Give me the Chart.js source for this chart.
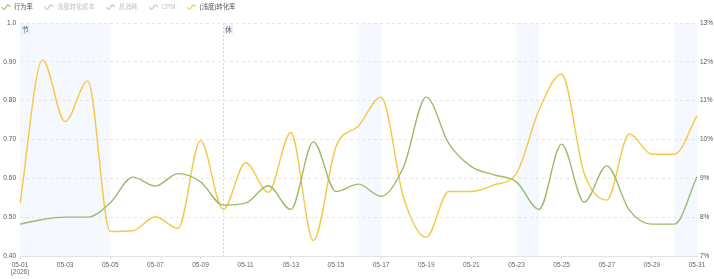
<!DOCTYPE html>
<html>
<head>
<meta charset="utf-8">
<script src="https://cdn.jsdelivr.net/npm/chart.js@4.4.1/dist/chart.umd.min.js"></script>
<style>
  html, body { margin: 0; padding: 0; background: #fff; }
  #wrap { position: relative; width: 714px; height: 279px; }
</style>
</head>
<body>
<div id="wrap"><canvas id="c" width="714" height="279"></canvas></div>
<script>
// ---- data ----
const dates = ['05-01','05-02','05-03','05-04','05-05','05-06','05-07','05-08','05-09','05-10',
  '05-11','05-12','05-13','05-14','05-15','05-16','05-17','05-18','05-19','05-20',
  '05-21','05-22','05-23','05-24','05-25','05-26','05-27','05-28','05-29','05-30','05-31'];
const yearLabel = '(2026)';

// 行为率 (left axis)
const behaviorRate = [0.482,0.494,0.500,0.500,0.537,0.603,0.580,0.612,0.591,0.531,
  0.536,0.581,0.520,0.694,0.566,0.585,0.554,0.630,0.809,0.690,
  0.630,0.609,0.591,0.520,0.688,0.539,0.632,0.518,0.482,0.482,0.604];

// (浅度)转化率, % (right axis)
const convRate = [8.36,12.05,10.46,11.51,7.63,7.65,8.01,7.71,9.97,8.20,
  9.40,8.64,10.18,7.40,9.81,10.35,11.09,8.50,7.48,8.66,
  8.66,8.83,9.13,10.76,11.68,9.13,8.44,10.14,9.62,9.62,10.61];

const seriesNames = ['行为率','浅度转化成本','总消耗','CPM','(浅度)转化率'];
const seriesActive = [true,false,false,false,true];

const leftTicks = [0.4,0.5,0.6,0.7,0.8,0.9,1.0];
const rightTicks = [7,8,9,10,11,12,13];

// holiday / weekend bands
const bands = [
  {from:'05-01', to:'05-05', tag:'节'},
  {from:'05-10', to:'05-10', tag:'休'},
  {from:'05-16', to:'05-17'},
  {from:'05-23', to:'05-24'},
  {from:'05-30', to:'05-31'}
];

// ---- styles ----
const GREEN = '#9cbb6c';
const YELLOW = '#f4c945';
const INACTIVE = '#c4c4c4';
const seriesColors = [GREEN, INACTIVE, INACTIVE, INACTIVE, YELLOW];
const FONT = "'Liberation Sans', 'Noto Sans CJK SC', sans-serif";

const bandPlugin = {
  id: 'bands',
  beforeDraw(chart) {
    const {ctx, chartArea, scales} = chart;
    const x = scales.x;
    ctx.save();
    bands.forEach(b => {
      const x0 = x.getPixelForValue(dates.indexOf(b.from));
      const x1 = x.getPixelForValue(dates.indexOf(b.to));
      if (x1 - x0 > 0.5) {
        ctx.fillStyle = '#f5f8ff';
        ctx.fillRect(x0, chartArea.top, x1 - x0, chartArea.bottom - chartArea.top);
      } else {
        ctx.strokeStyle = '#cdd6f3';
        ctx.lineWidth = 1;
        ctx.setLineDash([2, 2]);
        ctx.beginPath();
        ctx.moveTo(Math.round(x0) + 0.5, chartArea.top);
        ctx.lineTo(Math.round(x0) + 0.5, chartArea.bottom);
        ctx.stroke();
        ctx.setLineDash([]);
      }
    });
    ctx.restore();
  },
  afterDatasetsDraw(chart) {
    const {ctx, chartArea, scales} = chart;
    const x = scales.x;
    ctx.save();
    ctx.font = '6.5px ' + FONT;
    ctx.textBaseline = 'middle';
    ctx.textAlign = 'center';
    bands.forEach(b => {
      if (!b.tag) return;
      const x0 = x.getPixelForValue(dates.indexOf(b.from));
      ctx.fillStyle = '#e8effd';
      ctx.fillRect(x0 + 1, chartArea.top + 2, 9, 9);
      ctx.fillStyle = '#666';
      ctx.fillText(b.tag, x0 + 5.5, chartArea.top + 6.8);
    });
    ctx.restore();
  }
};

const legendPlugin = {
  id: 'waveLegend',
  afterDraw(chart) {
    const ctx = chart.ctx;
    ctx.save();
    ctx.font = '6.3px ' + FONT;
    ctx.textBaseline = 'middle';
    ctx.textAlign = 'left';
    let x = 2;
    const y = 7;
    seriesNames.forEach((name, i) => {
      const col = seriesColors[i];
      ctx.strokeStyle = col;
      ctx.lineWidth = 1.1;
      ctx.beginPath();
      for (let k = 0; k <= 16; k++) {
        const t = k / 16;
        const px = x + t * 8;
        const py = y + Math.sin(t * Math.PI * 2) * 2.2;
        if (k === 0) ctx.moveTo(px, py); else ctx.lineTo(px, py);
      }
      ctx.stroke();
      ctx.fillStyle = seriesActive[i] ? '#555' : '#c2c2c2';
      ctx.fillText(name, x + 12, y);
      x += 12 + ctx.measureText(name).width + 12;
    });
    ctx.restore();
  }
};

const datasets = [
  {
    label: seriesNames[0], data: behaviorRate, yAxisID: 'y',
    borderColor: GREEN, backgroundColor: GREEN, borderWidth: 1.4,
    pointRadius: 0, cubicInterpolationMode: 'monotone', fill: false
  },
  { label: seriesNames[1], data: [], yAxisID: 'y', hidden: true },
  { label: seriesNames[2], data: [], yAxisID: 'y', hidden: true },
  { label: seriesNames[3], data: [], yAxisID: 'y', hidden: true },
  {
    label: seriesNames[4], data: convRate, yAxisID: 'y1',
    borderColor: YELLOW, backgroundColor: YELLOW, borderWidth: 1.4,
    pointRadius: 0, cubicInterpolationMode: 'monotone', fill: false
  }
];

new Chart(document.getElementById('c'), {
  type: 'line',
  data: { labels: dates, datasets },
  plugins: [bandPlugin, legendPlugin],
  options: {
    responsive: false,
    animation: false,
    layout: { padding: { top: 23, left: 0, right: 0, bottom: 0 } },
    plugins: { legend: { display: false }, tooltip: { enabled: false } },
    scales: {
      x: {
        type: 'category',
        offset: false,
        afterFit(s) { s.height = 23; },
        grid: {
          drawOnChartArea: false, drawTicks: true, tickLength: 3,
          color: (c) => (c.index % 2 === 0 ? '#d9d9d9' : 'rgba(0,0,0,0)')
        },
        border: { display: true, color: '#e3e3e3' },
        ticks: {
          autoSkip: false, maxRotation: 0, padding: 2,
          color: '#666', font: { size: 6.5, family: FONT, lineHeight: 1.15 },
          callback(v, i) {
            if (i % 2 !== 0) return null;
            return i === 0 ? [dates[i], yearLabel] : dates[i];
          }
        }
      },
      y: {
        position: 'left', min: 0.4, max: 1.0,
        afterFit(s) { s.width = 20; },
        afterBuildTicks(s) { s.ticks = leftTicks.map(v => ({ value: v })); },
        grid: { color: '#e6e6e6', drawTicks: false },
        border: { display: false, dash: [3, 3] },
        ticks: {
          padding: 4, color: '#555', font: { size: 6.5, family: FONT },
          callback: v => (Math.abs(v - 1) < 1e-9 ? '1.0' : v.toFixed(2))
        }
      },
      y1: {
        position: 'right', min: 7, max: 13,
        afterFit(s) { s.width = 17; },
        afterBuildTicks(s) { s.ticks = rightTicks.map(v => ({ value: v })); },
        grid: { drawOnChartArea: false, drawTicks: false },
        border: { display: false },
        ticks: {
          padding: 3, color: '#555', font: { size: 6.5, family: FONT },
          callback: v => Math.round(v) + '%'
        }
      }
    }
  }
});
</script>
</body>
</html>
